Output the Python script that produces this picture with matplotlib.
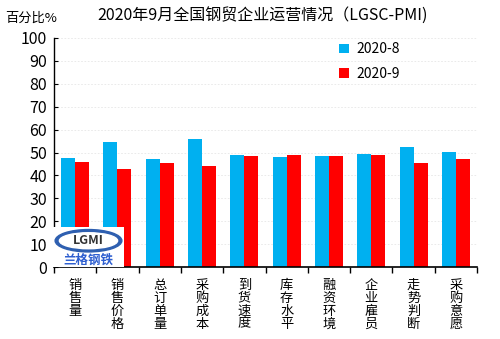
import matplotlib
matplotlib.use('Agg')
import matplotlib.pyplot as plt
import numpy as np
from matplotlib.patches import Ellipse, Rectangle

plt.rcParams['font.family'] = ['Noto Sans CJK SC', 'DejaVu Sans']

categories = ['销售量', '销售价格', '总订单量', '采购成本', '到货速度',
              '库存水平', '融资环境', '企业雇员', '走势判断', '采购意愿']
aug = [47.7, 54.7, 47.2, 56.0, 49.0, 48.1, 48.6, 49.4, 52.5, 50.4]
sep = [45.9, 42.9, 45.5, 44.2, 48.6, 49.0, 48.6, 49.0, 45.5, 47.3]
series_names = ['2020-8', '2020-9']

fig = plt.figure(figsize=(5, 3.39), dpi=100)
ax = fig.add_axes([0.108, 0.212, 0.846, 0.676])

x = np.arange(len(categories))
w = 0.33
ax.bar(x - w / 2, aug, w, color='#00B0F0', label=series_names[0], zorder=2)
ax.bar(x + w / 2, sep, w, color='#FF0000', label=series_names[1], zorder=2)

ax.set_xlim(-0.5, len(categories) - 0.5)
ax.set_ylim(0, 100)
ax.set_yticks(range(0, 101, 10))
ax.tick_params(axis='y', labelsize=11.5, length=3, direction='in', pad=5)
ax.yaxis.grid(True, color='#E6E6E6', linestyle=(0, (2, 2)), linewidth=0.6, zorder=0)

ax.set_xticks(np.arange(-0.5, len(categories), 1))
ax.set_xticklabels([])
ax.tick_params(axis='x', length=4, direction='out', width=1)
for i, c in enumerate(categories):
    ax.text(i, -5, '\n'.join(c), ha='center', va='top', fontsize=9.5,
            linespacing=1.0, transform=ax.transData)

for s in ['top', 'right']:
    ax.spines[s].set_visible(False)
ax.spines['left'].set_linewidth(1)
ax.spines['bottom'].set_linewidth(1.2)

ax.legend(loc='upper left', bbox_to_anchor=(0.645, 1.035), frameon=False,
          fontsize=10, handlelength=0.7, handleheight=0.7, labelspacing=0.75,
          handletextpad=0.5)

fig.text(0.525, 0.955, '2020年9月全国钢贸企业运营情况（LGSC-PMI)', ha='center',
         va='center', fontsize=11.5)
fig.text(0.01, 0.945, '百分比%', ha='left', va='center', fontsize=9.5)

# logo block
lax = fig.add_axes([0.106, 0.212, 0.142, 0.118])
lax.set_xlim(0, 1)
lax.set_ylim(0, 1)
lax.axis('off')
lax.add_patch(Rectangle((0, 0), 1, 1, color='white'))
lax.add_patch(Ellipse((0.5, 0.66), 0.94, 0.56, color='#2E5FB0'))
lax.add_patch(Ellipse((0.5, 0.66), 0.82, 0.4, color='white'))
lax.text(0.5, 0.66, 'LGMI', ha='center', va='center', fontsize=9,
         fontweight='bold', color='#333333')
lax.text(0.5, 0.18, '兰格钢铁', ha='center', va='center', fontsize=9,
         color='#2E5FD0', fontweight='bold', fontstyle='italic')

fig.savefig('out.png', dpi=100)
